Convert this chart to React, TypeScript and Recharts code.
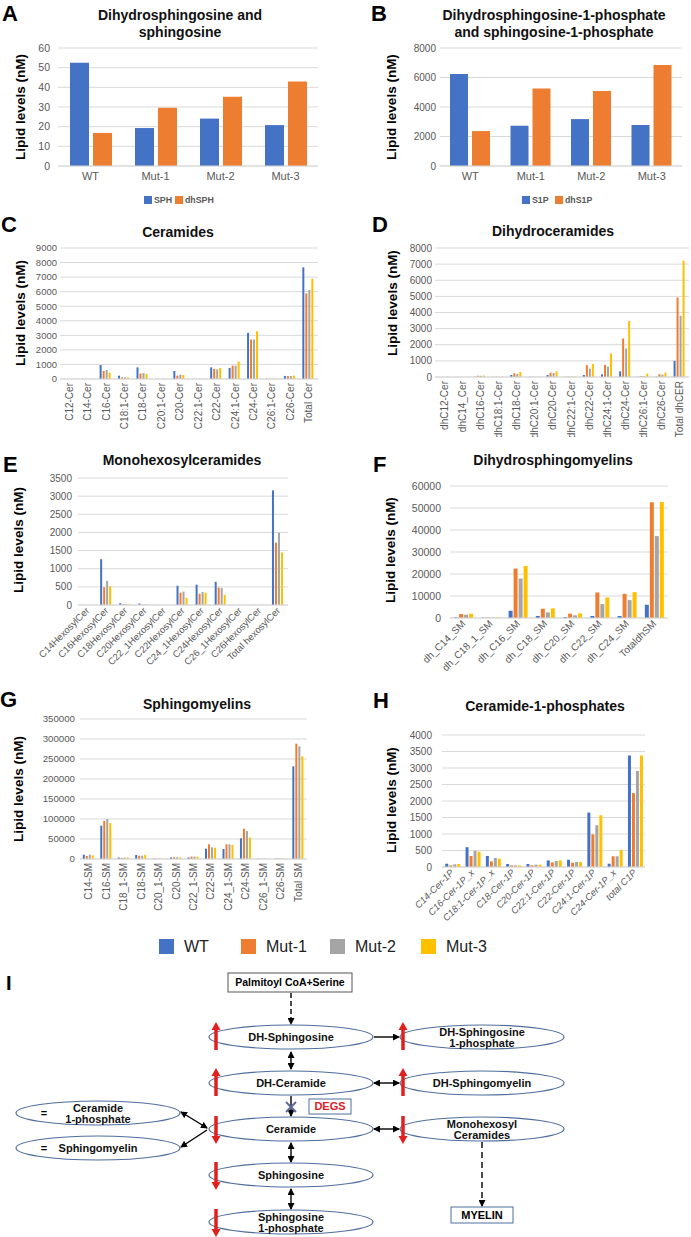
import React from "react";
import { Bar, BarChart, CartesianGrid, XAxis, YAxis } from "recharts";

const SERIES = ["WT", "Mut-1", "Mut-2", "Mut-3"];
const COLORS = ["#4472C4", "#ED7D31", "#A5A5A5", "#FFC000"];
const FONT = "'Liberation Sans', Arial, sans-serif";
const TICK_COLOR = "#595959";
const GRID = "#D9D9D9";

// A
const genotypes = ["WT", "Mut-1", "Mut-2", "Mut-3"];
const sphValues = [52.5, 19.3, 24.1, 20.8];
const dhSphValues = [16.8, 29.6, 35.2, 43.0];
const ticksA = [0, 10, 20, 30, 40, 50, 60];

// B
const s1pValues = [6240, 2730, 3180, 2780];
const dhS1pValues = [2370, 5260, 5080, 6850];
const ticksB = [0, 2000, 4000, 6000, 8000];

// C
const cerCategories = ["C12-Cer", "C14-Cer", "C16-Cer", "C18:1-Cer", "C18-Cer", "C20:1-Cer", "C20-Cer", "C22:1-Cer", "C22-Cer", "C24:1-Cer", "C24-Cer", "C26:1-Cer", "C26-Cer", "Total Cer"];
const cerWT = [5, 12, 965, 230, 800, 8, 550, 12, 800, 760, 3170, 20, 210, 7670];
const cerMut1 = [4, 10, 550, 115, 370, 6, 230, 10, 690, 920, 2710, 25, 200, 5880];
const cerMut2 = [4, 10, 620, 120, 410, 6, 300, 10, 660, 920, 2710, 25, 200, 6110];
const cerMut3 = [4, 12, 440, 110, 345, 8, 275, 12, 760, 1200, 3280, 40, 230, 6890];
const ticksC = [0, 1000, 2000, 3000, 4000, 5000, 6000, 7000, 8000, 9000];

// D
const dhCerCategories = ["dhC12-Cer", "dhC14_Cer", "dhC16-Cer", "dhC18:1-Cer", "dhC18-Cer", "dhC20:1-Cer", "dhC20-Cer", "dhC22:1-Cer", "dhC22-Cer", "dhC24:1-Cer", "dhC24-Cer", "dhC26:1-Cer", "dhC26-Cer", "Total dhCER"];
const dhCerWT = [2, 3, 15, 8, 125, 8, 125, 10, 125, 165, 350, 15, 20, 1000];
const dhCerMut1 = [2, 5, 80, 15, 230, 12, 270, 25, 730, 750, 2390, 60, 170, 4930];
const dhCerMut2 = [2, 5, 75, 12, 190, 10, 250, 20, 520, 640, 1770, 50, 150, 3800];
const dhCerMut3 = [2, 6, 90, 20, 310, 15, 350, 30, 810, 1460, 3470, 210, 270, 7210];
const ticksD = [0, 1000, 2000, 3000, 4000, 5000, 6000, 7000, 8000];

// E
const hexCategories = ["C14HexosylCer", "C16HexosylCer", "C18HexosylCer", "C20HexosylCer", "C22_1HexosylCer", "C22HexosylCer", "C24_1HexosylCer", "C24HexosylCer", "C26_1HexosylCer", "C26HexosylCer", "Total hexosylCer"];
const hexWT = [5, 1262, 50, 40, 3, 530, 560, 640, 3, 5, 3160];
const hexMut1 = [3, 490, 20, 12, 2, 340, 310, 480, 2, 3, 1720];
const hexMut2 = [3, 665, 25, 15, 2, 370, 360, 470, 2, 3, 1990];
const hexMut3 = [3, 515, 18, 10, 2, 200, 340, 280, 2, 3, 1450];
const ticksE = [0, 500, 1000, 1500, 2000, 2500, 3000, 3500];

// F
const dhSmCategories = ["dh_C14_SM", "dh_C18_1_SM", "dh_C16_SM", "dh_C18_SM", "dh_C20_SM", "dh_C22_SM", "dh_C24_SM", "TotaldhSM"];
const dhSmWT = [300, 150, 3300, 900, 400, 900, 900, 6030];
const dhSmMut1 = [1800, 200, 22460, 4200, 1960, 11600, 11000, 52600];
const dhSmMut2 = [1500, 150, 17940, 2560, 1200, 6330, 8140, 37240];
const dhSmMut3 = [1960, 250, 23670, 4370, 2100, 9350, 11760, 52770];
const ticksF = [0, 10000, 20000, 30000, 40000, 50000, 60000];

// G
const smCategories = ["C14-SM", "C16-SM", "C18_1-SM", "C18-SM", "C20_1-SM", "C20-SM", "C22_1-SM", "C22-SM", "C24_1-SM", "C24-SM", "C26_1-SM", "C26-SM", "Total SM"];
const smWT = [10800, 83300, 3500, 10000, 1000, 4000, 4000, 25800, 25000, 51700, 500, 1000, 231700];
const smMut1 = [7500, 95800, 3000, 8300, 1200, 4500, 6000, 36700, 36700, 75800, 600, 1200, 288300];
const smMut2 = [10800, 100000, 3500, 8300, 1200, 4500, 6000, 29200, 36700, 70000, 600, 1200, 281700];
const smMut3 = [9200, 90000, 4000, 10000, 1000, 4000, 6000, 28300, 35000, 53300, 500, 1000, 256700];
const ticksG = [0, 50000, 100000, 150000, 200000, 250000, 300000, 350000];

// H
const c1pCategories = ["C14-Cer-1P", "C16-Cer-1P_x", "C18:1-Cer-1P_x", "C18-Cer-1P", "C20-Cer-1P", "C22:1-Cer-1P", "C22-Cer-1P", "C24:1-Cer-1P", "C24-Cer-1P_x", "total C1P"];
const c1pWT = [100, 600, 335, 90, 90, 200, 220, 1650, 100, 3380];
const c1pMut1 = [50, 335, 170, 50, 50, 140, 130, 990, 325, 2240];
const c1pMut2 = [80, 490, 275, 50, 70, 180, 150, 1265, 325, 2910];
const c1pMut3 = [90, 465, 255, 50, 70, 200, 150, 1570, 515, 3380];
const ticksH = [0, 500, 1000, 1500, 2000, 2500, 3000, 3500, 4000];

function buildRows(categories: string[], keys: string[], values: number[][]) {
  return categories.map((name, i) => {
    const row: Record<string, string | number> = { name };
    keys.forEach((k, j) => (row[k] = values[j][i]));
    return row;
  });
}

type TickKind = "flat" | "vertical" | "diag";

function makeXTick(kind: TickKind, fontSize: number, italic = false) {
  return (props: any) => {
    const { x, y, payload } = props;
    const common = { fill: TICK_COLOR, fontSize, fontStyle: italic ? "italic" : "normal" };
    if (kind === "flat") {
      return (
        <text x={x} y={y} dy="0.71em" textAnchor="middle" {...common}>
          {payload.value}
        </text>
      );
    }
    const angle = kind === "vertical" ? -90 : -45;
    return (
      <text x={x} y={y} dy="0.35em" textAnchor="end" transform={`rotate(${angle} ${x} ${y})`} {...common}>
        {payload.value}
      </text>
    );
  };
}

type PanelProps = {
  left: number;
  top: number;
  width: number;
  height: number;
  yWidth: number;
  xHeight: number;
  yTickMargin: number;
  xTickMargin: number;
  ticks: number[];
  data: Record<string, string | number>[];
  keys: string[];
  colors: string[];
  yFont: number;
  xFont: number;
  xKind: TickKind;
  italic?: boolean;
  barSize?: number;
  barGap?: number;
  barCategoryGap?: string;
};

function Panel(p: PanelProps) {
  return (
    <div style={{ position: "absolute", left: p.left, top: p.top }}>
      <BarChart
        width={p.width}
        height={p.height}
        data={p.data}
        margin={{ top: 8, right: 0, left: 0, bottom: 0 }}
        barGap={p.barGap ?? 1}
        barCategoryGap={p.barCategoryGap ?? "15%"}
        barSize={p.barSize}
      >
        <CartesianGrid vertical={false} stroke={GRID} />
        <XAxis
          dataKey="name"
          interval={0}
          height={p.xHeight}
          tickLine={false}
          tickSize={0}
          tickMargin={p.xTickMargin}
          axisLine={{ stroke: GRID }}
          tick={makeXTick(p.xKind, p.xFont, p.italic)}
        />
        <YAxis
          width={p.yWidth}
          domain={[0, p.ticks[p.ticks.length - 1]]}
          ticks={p.ticks}
          interval={0}
          tickLine={false}
          axisLine={false}
          tickSize={0}
          tickMargin={p.yTickMargin}
          tick={{ fill: TICK_COLOR, fontSize: p.yFont }}
        />
        {p.keys.map((k, i) => (
          <Bar key={k} dataKey={k} fill={p.colors[i]} isAnimationActive={false} />
        ))}
      </BarChart>
    </div>
  );
}

const dataA = buildRows(genotypes, ["SPH", "dhSPH"], [sphValues, dhSphValues]);
const dataB = buildRows(genotypes, ["S1P", "dhS1P"], [s1pValues, dhS1pValues]);
const dataC = buildRows(cerCategories, SERIES, [cerWT, cerMut1, cerMut2, cerMut3]);
const dataD = buildRows(dhCerCategories, SERIES, [dhCerWT, dhCerMut1, dhCerMut2, dhCerMut3]);
const dataE = buildRows(hexCategories, SERIES, [hexWT, hexMut1, hexMut2, hexMut3]);
const dataF = buildRows(dhSmCategories, SERIES, [dhSmWT, dhSmMut1, dhSmMut2, dhSmMut3]);
const dataG = buildRows(smCategories, SERIES, [smWT, smMut1, smMut2, smMut3]);
const dataH = buildRows(c1pCategories, SERIES, [c1pWT, c1pMut1, c1pMut2, c1pMut3]);

function Letter({ x, y, children }: { x: number; y: number; children: string }) {
  return (
    <text x={x} y={y} fontSize={22} fontWeight="bold" fill="#000">
      {children}
    </text>
  );
}

function Title({ x, y, lines }: { x: number; y: number; lines: string[] }) {
  return (
    <text x={x} y={y} fontSize={14} fontWeight="bold" textAnchor="middle" fill="#111">
      {lines.map((l, i) => (
        <tspan key={i} x={x} dy={i === 0 ? 0 : 17}>
          {l}
        </tspan>
      ))}
    </text>
  );
}

function YLabel({ x, y }: { x: number; y: number }) {
  return (
    <text x={x} y={y} dy="0.35em" fontSize={13.5} fontWeight="bold" textAnchor="middle" transform={`rotate(-90 ${x} ${y})`} fill="#000">
      Lipid levels (nM)
    </text>
  );
}

function MiniLegend({ x, y, gap, labels }: { x: number; y: number; gap: number; labels: string[] }) {
  return (
    <g>
      <rect x={x} y={y - 4} width={8} height={8} fill={COLORS[0]} />
      <text x={x + 10} y={y} dy="0.35em" fontSize={8.8} fontWeight="bold" fill={TICK_COLOR}>
        {labels[0]}
      </text>
      <rect x={x + gap} y={y - 4} width={8} height={8} fill={COLORS[1]} />
      <text x={x + gap + 10} y={y} dy="0.35em" fontSize={8.8} fontWeight="bold" fill={TICK_COLOR}>
        {labels[1]}
      </text>
    </g>
  );
}

const legendX = [159, 241, 330, 421];

// pathway diagram (panel I)
const CX = 291;
const RX = 482;
const LX = 98;
const ER = 82;

function Node({ cx, cy, lines, eq }: { cx: number; cy: number; lines: string[]; eq?: boolean }) {
  return (
    <g>
      <ellipse cx={cx} cy={cy} rx={ER} ry={12} fill="#fff" stroke="#4F6E9E" strokeWidth={1.2} />
      {eq && (
        <text x={cx - 54} y={cy} dy="0.35em" fontSize={11} fontWeight="bold" textAnchor="middle">
          =
        </text>
      )}
      {lines.map((l, i) => (
        <text
          key={i}
          x={cx}
          y={cy + (lines.length === 1 ? 0 : i === 0 ? -5 : 6)}
          dy="0.35em"
          fontSize={11}
          fontWeight="bold"
          textAnchor="middle"
          fill="#111"
        >
          {l}
        </text>
      ))}
    </g>
  );
}

function RedArrow({ x, y, up }: { x: number; y: number; up: boolean }) {
  const s = up ? -1 : 1;
  const tip = y + s * 15;
  const base = y + s * 7;
  const tail = y - s * 13;
  return (
    <g>
      <line x1={x} y1={tail} x2={x} y2={base} stroke="#E0201F" strokeWidth={3.5} />
      <polygon points={`${x - 4.5},${base} ${x + 4.5},${base} ${x},${tip}`} fill="#E0201F" />
    </g>
  );
}

function Pathway() {
  const a = { stroke: "#000", strokeWidth: 1.4 };
  return (
    <g>
      <defs>
        <marker id="ah" markerUnits="userSpaceOnUse" markerWidth={7} markerHeight={7} refX={6} refY={3.5} orient="auto-start-reverse">
          <path d="M0,0 L7,3.5 L0,7 z" fill="#000" />
        </marker>
      </defs>
      <text x={6} y={990} fontSize={20} fontWeight="bold">I</text>

      <rect x={228} y={973} width={124} height={19} fill="#fff" stroke="#555" strokeWidth={1} />
      <text x={290} y={982.5} dy="0.35em" fontSize={10.5} fontWeight="bold" textAnchor="middle">Palmitoyl CoA+Serine</text>
      <line x1={CX} y1={993} x2={CX} y2={1024} {...a} strokeDasharray="5 3" markerEnd="url(#ah)" />

      <line x1={CX} y1={1052} x2={CX} y2={1069} {...a} markerStart="url(#ah)" markerEnd="url(#ah)" />
      <line x1={CX} y1={1096} x2={CX} y2={1116} {...a} markerEnd="url(#ah)" />
      <line x1={CX} y1={1143} x2={CX} y2={1162} {...a} markerStart="url(#ah)" markerEnd="url(#ah)" />
      <line x1={CX} y1={1189} x2={CX} y2={1209} {...a} markerStart="url(#ah)" markerEnd="url(#ah)" />

      <line x1={374} y1={1037} x2={399} y2={1037} {...a} markerEnd="url(#ah)" />
      <line x1={374} y1={1083} x2={399} y2={1083} {...a} markerStart="url(#ah)" markerEnd="url(#ah)" />
      <line x1={374} y1={1129} x2={399} y2={1129} {...a} markerStart="url(#ah)" markerEnd="url(#ah)" />

      <line x1={207} y1={1128} x2={181} y2={1112} {...a} markerStart="url(#ah)" markerEnd="url(#ah)" />
      <line x1={207} y1={1130} x2={181} y2={1147} {...a} markerEnd="url(#ah)" />

      <line x1={RX} y1={1142} x2={RX} y2={1206} {...a} strokeDasharray="6 4" markerEnd="url(#ah)" />

      <Node cx={CX} cy={1037} lines={["DH-Sphingosine"]} />
      <Node cx={RX} cy={1037} lines={["DH-Sphingosine", "1-phosphate"]} />
      <Node cx={CX} cy={1083} lines={["DH-Ceramide"]} />
      <Node cx={RX} cy={1083} lines={["DH-Sphingomyelin"]} />
      <Node cx={CX} cy={1129} lines={["Ceramide"]} />
      <Node cx={RX} cy={1129} lines={["Monohexosyl", "Ceramides"]} />
      <Node cx={LX} cy={1113} lines={["Ceramide", "1-phosphate"]} eq />
      <Node cx={LX} cy={1148} lines={["Sphingomyelin"]} eq />
      <Node cx={CX} cy={1175} lines={["Sphingosine"]} />
      <Node cx={CX} cy={1222} lines={["Sphingosine", "1-phosphate"]} />

      <line x1={CX - 5} y1={1102} x2={CX + 5} y2={1112} stroke="#5B6A9A" strokeWidth={2} />
      <line x1={CX + 5} y1={1102} x2={CX - 5} y2={1112} stroke="#5B6A9A" strokeWidth={2} />

      <rect x={309} y={1099} width={42} height={15} fill="#fff" stroke="#4F6E9E" strokeWidth={1} />
      <text x={330} y={1106.5} dy="0.35em" fontSize={11} fontWeight="bold" fill="#E0201F" textAnchor="middle">DEGS</text>

      <rect x={451} y={1207} width={62} height={16} fill="#fff" stroke="#4F6E9E" strokeWidth={1} />
      <text x={482} y={1215} dy="0.35em" fontSize={11} fontWeight="bold" textAnchor="middle">MYELIN</text>

      <RedArrow x={216} y={1037} up />
      <RedArrow x={216} y={1083} up />
      <RedArrow x={403} y={1037} up />
      <RedArrow x={403} y={1083} up />
      <RedArrow x={216} y={1129} up={false} />
      <RedArrow x={403} y={1129} up={false} />
      <RedArrow x={216} y={1175} up={false} />
      <RedArrow x={216} y={1222} up={false} />
    </g>
  );
}

export default function App() {
  return (
    <div style={{ position: "absolute", left: 0, top: 0, width: 691, height: 1237, background: "#fff", fontFamily: FONT, overflow: "hidden" }}>
      <Panel left={0} top={40} width={318} height={156} yWidth={58} xHeight={30} yTickMargin={8} xTickMargin={6}
        ticks={ticksA} data={dataA} keys={["SPH", "dhSPH"]} colors={COLORS.slice(0, 2)} yFont={10.5} xFont={11} xKind="flat" barSize={19} barGap={4} />
      <Panel left={345} top={40} width={337} height={156} yWidth={95} xHeight={30} yTickMargin={4} xTickMargin={6}
        ticks={ticksB} data={dataB} keys={["S1P", "dhS1P"]} colors={COLORS.slice(0, 2)} yFont={10} xFont={11} xKind="flat" barSize={18} barGap={4} />
      <Panel left={0} top={240} width={318} height={199} yWidth={60} xHeight={60} yTickMargin={3} xTickMargin={4}
        ticks={ticksC} data={dataC} keys={SERIES} colors={COLORS} yFont={9.5} xFont={10} xKind="vertical" barCategoryGap="15%" />
      <Panel left={345} top={240} width={344} height={197} yWidth={90} xHeight={60} yTickMargin={3} xTickMargin={4}
        ticks={ticksD} data={dataD} keys={SERIES} colors={COLORS} yFont={10} xFont={10} xKind="vertical" barCategoryGap="15%" />
      <Panel left={0} top={470} width={288} height={205} yWidth={78} xHeight={70} yTickMargin={6} xTickMargin={4}
        ticks={ticksE} data={dataE} keys={SERIES} colors={COLORS} yFont={10} xFont={9.5} xKind="diag" barCategoryGap="16%" />
      <Panel left={345} top={478} width={323} height={210} yWidth={105} xHeight={70} yTickMargin={9} xTickMargin={4}
        ticks={ticksF} data={dataF} keys={SERIES} colors={COLORS} yFont={10.5} xFont={10} xKind="diag" barCategoryGap="15%" />
      <Panel left={0} top={711} width={307} height={203} yWidth={80} xHeight={55} yTickMargin={5} xTickMargin={4}
        ticks={ticksG} data={dataG} keys={SERIES} colors={COLORS} yFont={9.7} xFont={10} xKind="vertical" barCategoryGap="16%" />
      <Panel left={345} top={727} width={300} height={200} yWidth={97} xHeight={60} yTickMargin={10} xTickMargin={4}
        ticks={ticksH} data={dataH} keys={SERIES} colors={COLORS} yFont={10} xFont={9.5} xKind="diag" italic barCategoryGap="16%" />

      <svg width={691} height={1237} style={{ position: "absolute", left: 0, top: 0, pointerEvents: "none" }} fontFamily={FONT}>
        <Letter x={2} y={21}>A</Letter>
        <Letter x={371} y={21}>B</Letter>
        <Letter x={1} y={232}>C</Letter>
        <Letter x={372} y={232}>D</Letter>
        <Letter x={3} y={472}>E</Letter>
        <Letter x={373} y={472}>F</Letter>
        <Letter x={0} y={707}>G</Letter>
        <Letter x={373} y={708}>H</Letter>

        <Title x={180} y={20} lines={["Dihydrosphingosine and", "sphingosine"]} />
        <Title x={554} y={20} lines={["Dihydrosphingosine-1-phosphate", "and sphingosine-1-phosphate"]} />
        <Title x={178} y={237} lines={["Ceramides"]} />
        <Title x={553} y={236} lines={["Dihydroceramides"]} />
        <Title x={182} y={465} lines={["Monohexosylceramides"]} />
        <Title x={553} y={465} lines={["Dihydrosphingomyelins"]} />
        <Title x={197} y={709} lines={["Sphingomyelins"]} />
        <Title x={545} y={711} lines={["Ceramide-1-phosphates"]} />

        <YLabel x={20} y={107} />
        <YLabel x={391} y={107} />
        <YLabel x={20} y={313} />
        <YLabel x={392} y={303} />
        <YLabel x={18} y={540} />
        <YLabel x={390} y={550} />
        <YLabel x={18} y={789} />
        <YLabel x={391} y={800} />

        <MiniLegend x={144} y={200} gap={31} labels={["SPH", "dhSPH"]} />
        <MiniLegend x={522} y={200} gap={33} labels={["S1P", "dhS1P"]} />

        {SERIES.map((s, i) => (
          <g key={s}>
            <rect x={legendX[i]} y={939} width={15} height={15} fill={COLORS[i]} />
            <text x={legendX[i] + 25} y={946.5} dy="0.35em" fontSize={16} fill="#222">
              {s}
            </text>
          </g>
        ))}

        <Pathway />
      </svg>
    </div>
  );
}
